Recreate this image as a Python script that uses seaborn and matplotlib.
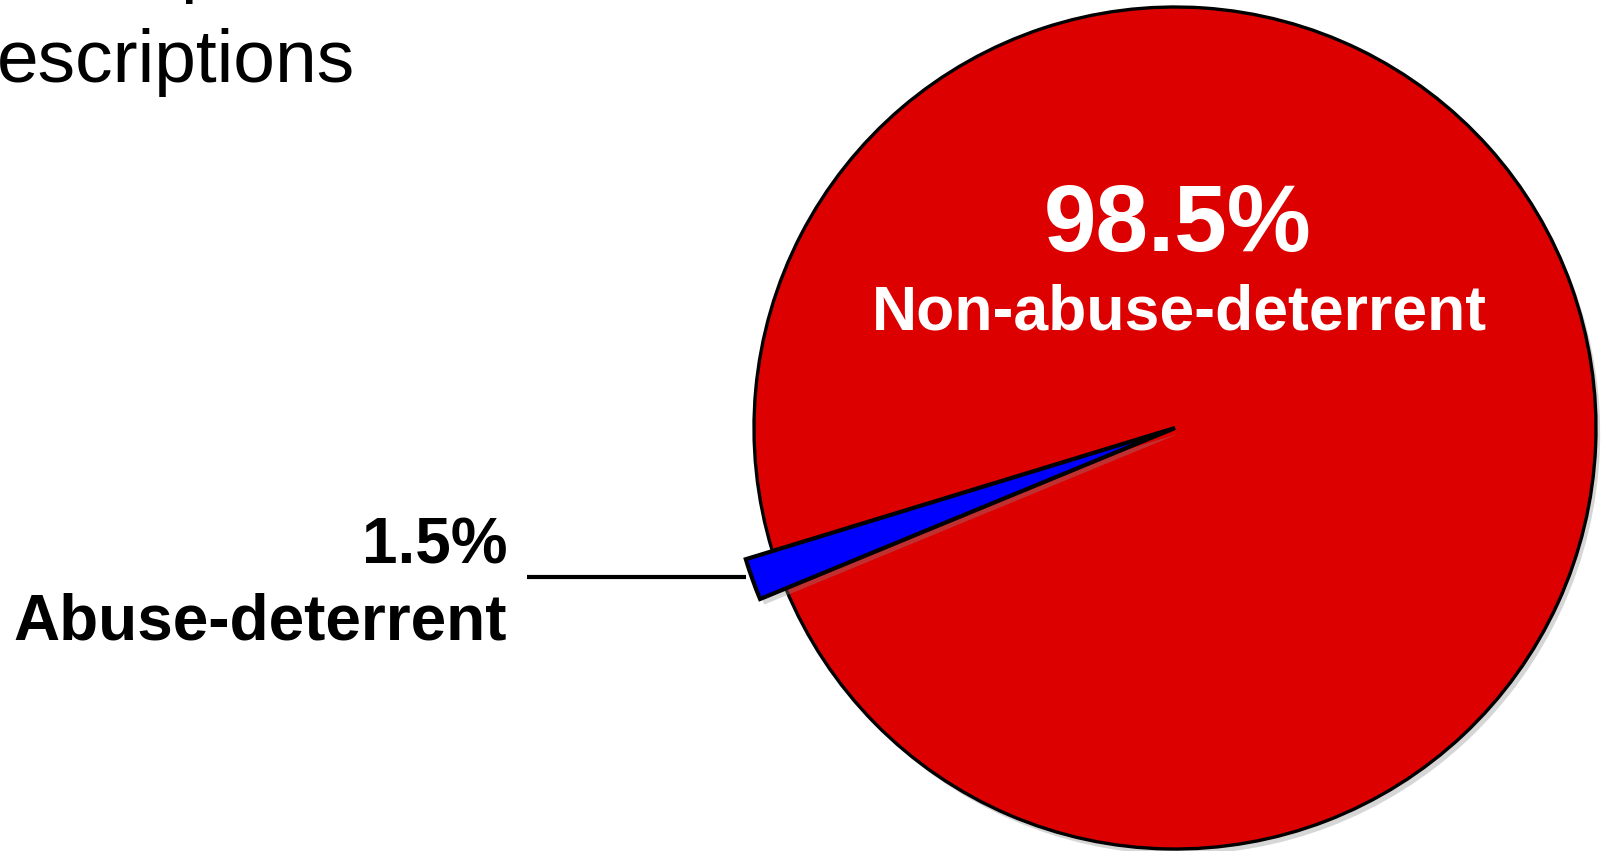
import matplotlib
matplotlib.use("Agg")
import matplotlib.pyplot as plt
import matplotlib.patheffects as pe
import seaborn as sns

# Share of prescriptions by formulation
categories = ["Abuse-deterrent", "Non-abuse-deterrent"]
shares = [1.5, 98.5]
colors = ["#0000FF", "#DD0000"]

sns.set_theme(style="white")
plt.rcParams["font.family"] = ["Liberation Sans", "DejaVu Sans"]

W, H = 1605, 851
fig = plt.figure(figsize=(W / 100, H / 100), dpi=100)
ax = fig.add_axes([0, 0, 1, 1])

cx, cy, r = 1175, 423, 421
shadow = [pe.SimplePatchShadow(offset=(3, -4), shadow_rgbFace="0.55", alpha=0.35), pe.Normal()]
wedges, _ = ax.pie(
    shares, colors=colors, startangle=197, counterclock=True,
    center=(cx, cy), radius=r, frame=True,
    wedgeprops=dict(edgecolor="black", linewidth=2.4, path_effects=shadow),
)
ax.set_xlim(0, W)
ax.set_ylim(0, H)
ax.set_aspect("equal")
ax.axis("off")
# the small slice is drawn reaching past the rim, with a heavier outline
wedges[0].set_radius(r * 1.066)
wedges[0].set_linewidth(3.0)
wedges[0].set_joinstyle("miter")
wedges[0].set_zorder(3)

# leader line for the small slice
ax.plot([527, 746], [274, 274], color="black", linewidth=3, solid_capstyle="butt", zorder=2)

ax.text(507, 288, f"{shares[0]}%", ha="right", va="baseline",
        fontsize=46, fontweight="bold", color="black")
ax.text(507, 211, categories[0], ha="right", va="baseline",
        fontsize=46, fontweight="bold", color="black")

ax.text(1178, 600, f"{shares[1]}%", ha="center", va="baseline",
        fontsize=68, fontweight="bold", color="white", zorder=5)
ax.text(1179, 521, categories[1], ha="center", va="baseline",
        fontsize=45, fontweight="bold", color="white", zorder=5)

# title lines (partly outside the canvas)
ax.text(180, 862, "p", ha="left", va="baseline", fontsize=54, color="black", clip_on=False)
ax.text(-3, 769, "escriptions", ha="left", va="baseline", fontsize=54, color="black")

fig.savefig("out.png", dpi=100)
